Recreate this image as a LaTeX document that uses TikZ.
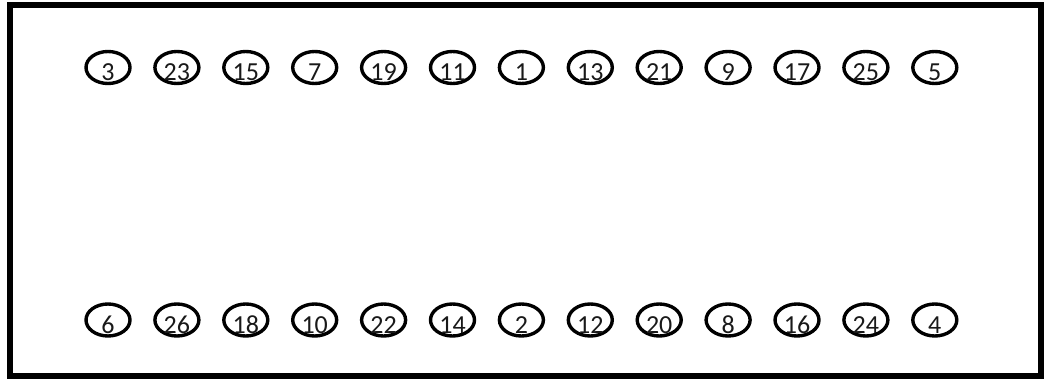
\documentclass[tikz,border=0pt]{standalone}
\usepackage{fontspec}
\setmainfont{Carlito}
\usetikzlibrary{shapes.geometric}
\tikzset{
  elps/.style={draw=black, line width=3.4pt, ellipse, minimum width=44pt, minimum height=32pt, inner sep=0pt},
  lbl/.style={font=\fontsize{26}{30}\selectfont, text=black!90, inner sep=0pt},
  frame/.style={draw=black, line width=6pt}
}
\begin{document}
\begin{tikzpicture}[x=1pt,y=-1pt]
\useasboundingbox (0,0) rectangle (1046,379);
\draw[frame] (9.5,5.5) rectangle (1040.5,375.5);
\foreach \t [count=\i from 0] in {3,23,15,7,19,11,1,13,21,9,17,25,5} {
  \node[elps] (t\t) at ({108+68.9*\i},67.5) {};
  \node[lbl] (lt\t) at ([yshift=-5pt]t\t.center) {\t};
}
\foreach \b [count=\i from 0] in {6,26,18,10,22,14,2,12,20,8,16,24,4} {
  \node[elps] (b\b) at ({108+68.9*\i},320) {};
  \node[lbl] (lb\b) at ([yshift=-5pt]b\b.center) {\b};
}
\end{tikzpicture}
\end{document}
